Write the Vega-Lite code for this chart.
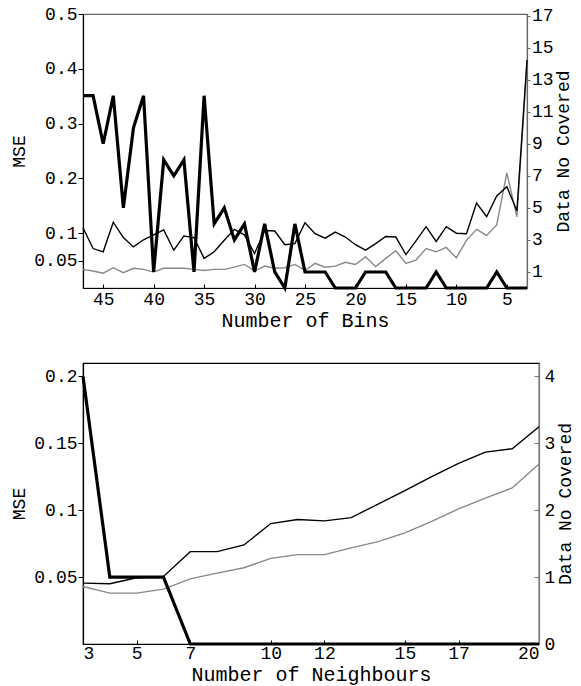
{
  "$schema": "https://vega.github.io/schema/vega-lite/v6.json",
  "padding": {"left": 10, "top": 4, "right": 5, "bottom": 2},
  "spacing": 31,
  "datasets": {
    "bins": [
      {"bins": 47, "mse_a": 0.110, "mse_b": 0.034, "nocov": 12},
      {"bins": 46, "mse_a": 0.072, "mse_b": 0.031, "nocov": 12},
      {"bins": 45, "mse_a": 0.066, "mse_b": 0.027, "nocov": 9},
      {"bins": 44, "mse_a": 0.120, "mse_b": 0.037, "nocov": 12},
      {"bins": 43, "mse_a": 0.092, "mse_b": 0.028, "nocov": 5},
      {"bins": 42, "mse_a": 0.075, "mse_b": 0.036, "nocov": 10},
      {"bins": 41, "mse_a": 0.088, "mse_b": 0.034, "nocov": 12},
      {"bins": 40, "mse_a": 0.097, "mse_b": 0.029, "nocov": 1},
      {"bins": 39, "mse_a": 0.106, "mse_b": 0.036, "nocov": 8},
      {"bins": 38, "mse_a": 0.069, "mse_b": 0.036, "nocov": 7},
      {"bins": 37, "mse_a": 0.095, "mse_b": 0.036, "nocov": 8},
      {"bins": 36, "mse_a": 0.092, "mse_b": 0.034, "nocov": 1},
      {"bins": 35, "mse_a": 0.054, "mse_b": 0.032, "nocov": 12},
      {"bins": 34, "mse_a": 0.066, "mse_b": 0.034, "nocov": 4},
      {"bins": 33, "mse_a": 0.087, "mse_b": 0.034, "nocov": 5},
      {"bins": 32, "mse_a": 0.107, "mse_b": 0.038, "nocov": 3},
      {"bins": 31, "mse_a": 0.097, "mse_b": 0.043, "nocov": 4},
      {"bins": 30, "mse_a": 0.063, "mse_b": 0.031, "nocov": 1},
      {"bins": 29, "mse_a": 0.105, "mse_b": 0.040, "nocov": 4},
      {"bins": 28, "mse_a": 0.104, "mse_b": 0.036, "nocov": 1},
      {"bins": 27, "mse_a": 0.079, "mse_b": 0.037, "nocov": 0},
      {"bins": 26, "mse_a": 0.081, "mse_b": 0.043, "nocov": 4},
      {"bins": 25, "mse_a": 0.119, "mse_b": 0.032, "nocov": 1},
      {"bins": 24, "mse_a": 0.099, "mse_b": 0.045, "nocov": 1},
      {"bins": 23, "mse_a": 0.091, "mse_b": 0.038, "nocov": 1},
      {"bins": 22, "mse_a": 0.102, "mse_b": 0.040, "nocov": 0},
      {"bins": 21, "mse_a": 0.093, "mse_b": 0.047, "nocov": 0},
      {"bins": 20, "mse_a": 0.079, "mse_b": 0.043, "nocov": 0},
      {"bins": 19, "mse_a": 0.069, "mse_b": 0.057, "nocov": 1},
      {"bins": 18, "mse_a": 0.081, "mse_b": 0.039, "nocov": 1},
      {"bins": 17, "mse_a": 0.094, "mse_b": 0.054, "nocov": 1},
      {"bins": 16, "mse_a": 0.093, "mse_b": 0.068, "nocov": 0},
      {"bins": 15, "mse_a": 0.061, "mse_b": 0.045, "nocov": 0},
      {"bins": 14, "mse_a": 0.086, "mse_b": 0.051, "nocov": 0},
      {"bins": 13, "mse_a": 0.112, "mse_b": 0.072, "nocov": 0},
      {"bins": 12, "mse_a": 0.085, "mse_b": 0.066, "nocov": 1},
      {"bins": 11, "mse_a": 0.112, "mse_b": 0.074, "nocov": 0},
      {"bins": 10, "mse_a": 0.100, "mse_b": 0.055, "nocov": 0},
      {"bins": 9, "mse_a": 0.099, "mse_b": 0.087, "nocov": 0},
      {"bins": 8, "mse_a": 0.155, "mse_b": 0.107, "nocov": 0},
      {"bins": 7, "mse_a": 0.130, "mse_b": 0.096, "nocov": 0},
      {"bins": 6, "mse_a": 0.168, "mse_b": 0.115, "nocov": 1},
      {"bins": 5, "mse_a": 0.185, "mse_b": 0.210, "nocov": 0},
      {"bins": 4, "mse_a": 0.141, "mse_b": 0.130, "nocov": 0},
      {"bins": 3, "mse_a": 0.416, "mse_b": 0.410, "nocov": 0}
    ],
    "neigh": [
      {"n": 3, "mse_a": 0.0455, "mse_b": 0.043, "nocov": 4},
      {"n": 4, "mse_a": 0.045, "mse_b": 0.038, "nocov": 1},
      {"n": 5, "mse_a": 0.0495, "mse_b": 0.038, "nocov": 1},
      {"n": 6, "mse_a": 0.0505, "mse_b": 0.041, "nocov": 1},
      {"n": 7, "mse_a": 0.069, "mse_b": 0.0487, "nocov": 0},
      {"n": 8, "mse_a": 0.069, "mse_b": 0.053, "nocov": 0},
      {"n": 9, "mse_a": 0.074, "mse_b": 0.057, "nocov": 0},
      {"n": 10, "mse_a": 0.090, "mse_b": 0.064, "nocov": 0},
      {"n": 11, "mse_a": 0.093, "mse_b": 0.0668, "nocov": 0},
      {"n": 12, "mse_a": 0.092, "mse_b": 0.0668, "nocov": 0},
      {"n": 13, "mse_a": 0.0944, "mse_b": 0.0718, "nocov": 0},
      {"n": 14, "mse_a": 0.1046, "mse_b": 0.0765, "nocov": 0},
      {"n": 15, "mse_a": 0.1146, "mse_b": 0.083, "nocov": 0},
      {"n": 16, "mse_a": 0.125, "mse_b": 0.0917, "nocov": 0},
      {"n": 17, "mse_a": 0.135, "mse_b": 0.101, "nocov": 0},
      {"n": 18, "mse_a": 0.1434, "mse_b": 0.109, "nocov": 0},
      {"n": 19, "mse_a": 0.1459, "mse_b": 0.1166, "nocov": 0},
      {"n": 20, "mse_a": 0.1623, "mse_b": 0.1345, "nocov": 0}
    ]
  },
  "config": {
    "font": "Liberation Mono",
    "view": {"stroke": null},
    "axis": {
      "labelFont": "Liberation Mono", "titleFont": "Liberation Mono",
      "labelFontSize": 18, "titleFontSize": 18, "titleFontWeight": "normal",
      "labelColor": "black", "titleColor": "black",
      "grid": false, "domainColor": "black", "tickColor": "black",
      "domainWidth": 1.2, "tickWidth": 1,
      "labelPadding": 1, "tickSize": 5
    }
  },
  "vconcat": [
    {
      "width": 444, "height": 274,
      "view": {"stroke": "#666", "strokeWidth": 1.2},
      "data": {"name": "bins"},
      "layer": [
        {
          "transform": [{"fold": ["mse_b", "mse_a"], "as": ["series", "value"]}],
          "mark": {"type": "line", "strokeWidth": 1.4},
          "encoding": {
            "x": {"field": "bins", "type": "quantitative",
                  "scale": {"domain": [3, 47], "reverse": true, "nice": false, "zero": false},
                  "axis": {"title": "Number of Bins", "titleFontSize": 20, "values": [5, 10, 15, 20, 25, 30, 35, 40, 45],
                           "tickSize": -4, "labelPadding": 6, "titlePadding": 2}},
            "y": {"field": "value", "type": "quantitative",
                  "scale": {"domain": [0, 0.5], "nice": false},
                  "axis": {"title": "MSE", "values": [0.05, 0.1, 0.2, 0.3, 0.4, 0.5], "format": ".2~f", "titlePadding": 5}},
            "color": {"field": "series", "type": "nominal",
                      "scale": {"domain": ["mse_a", "mse_b"], "range": ["#000000", "#888888"]}, "legend": null}
          }
        },
        {
          "mark": {"type": "line", "strokeWidth": 3.2, "color": "black", "strokeJoin": "miter"},
          "encoding": {
            "x": {"field": "bins", "type": "quantitative"},
            "y": {"field": "nocov", "type": "quantitative",
                  "scale": {"domain": [0, 17.1], "nice": false},
                  "axis": {"orient": "right", "title": "Data No Covered", "values": [1, 3, 5, 7, 9, 11, 13, 15, 17],
                           "titleAngle": 270, "titleBaseline": "top", "titlePadding": 1,
                           "domainColor": "#666", "tickColor": "#666", "tickSize": 3, "labelPadding": 1.5}}
          }
        }
      ],
      "resolve": {"scale": {"y": "independent"}}
    },
    {
      "width": 456, "height": 281,
      "view": {"stroke": "black", "strokeWidth": 1.2},
      "data": {"name": "neigh"},
      "layer": [
        {
          "transform": [{"fold": ["mse_b", "mse_a"], "as": ["series", "value"]}],
          "mark": {"type": "line", "strokeWidth": 1.4},
          "encoding": {
            "x": {"field": "n", "type": "quantitative",
                  "scale": {"domain": [3, 20], "nice": false, "zero": false},
                  "axis": {"title": "Number of Neighbours", "titleFontSize": 20, "values": [3, 5, 7, 10, 12, 15, 17, 20],
                           "tickSize": -4, "labelPadding": 4, "titlePadding": 2}},
            "y": {"field": "value", "type": "quantitative",
                  "scale": {"domain": [0, 0.21], "nice": false},
                  "axis": {"title": "MSE", "values": [0.05, 0.1, 0.15, 0.2], "format": ".2~f", "titlePadding": 5}},
            "color": {"field": "series", "type": "nominal",
                      "scale": {"domain": ["mse_a", "mse_b"], "range": ["#000000", "#888888"]}, "legend": null}
          }
        },
        {
          "mark": {"type": "line", "strokeWidth": 3.2, "color": "black", "strokeJoin": "miter"},
          "encoding": {
            "x": {"field": "n", "type": "quantitative"},
            "y": {"field": "nocov", "type": "quantitative",
                  "scale": {"domain": [0, 4.2], "nice": false},
                  "axis": {"orient": "right", "title": "Data No Covered", "values": [0, 1, 2, 3, 4],
                           "titleAngle": 270, "titleBaseline": "top", "titlePadding": 1.5,
                           "domainColor": "#777", "tickColor": "#777", "tickSize": -5, "labelPadding": 10}}
          }
        }
      ],
      "resolve": {"scale": {"y": "independent"}}
    }
  ]
}
